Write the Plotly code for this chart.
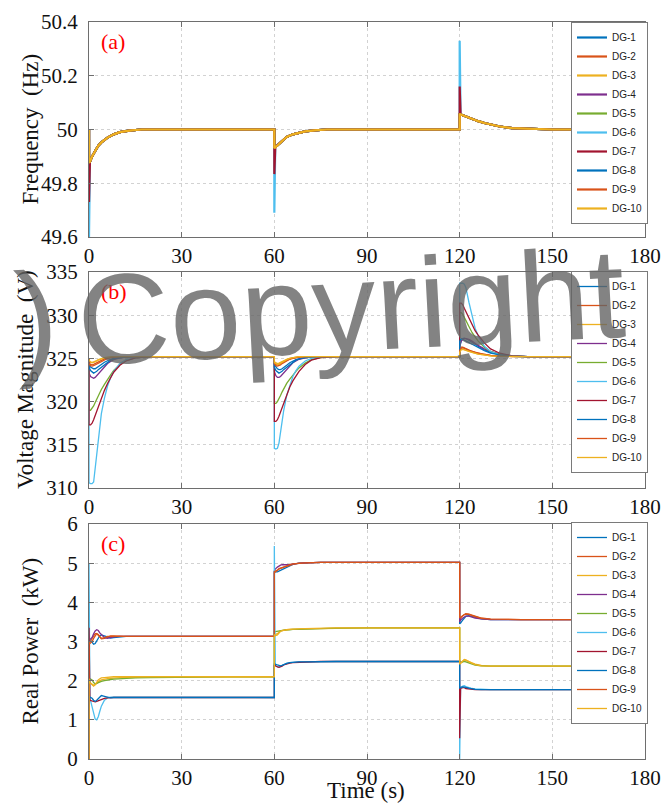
import plotly.graph_objects as go

W, H = 661, 804

dg_names = ["DG-1", "DG-2", "DG-3", "DG-4", "DG-5", "DG-6", "DG-7", "DG-8", "DG-9", "DG-10"]
dg_colors = ["#0072BD", "#D95319", "#EDB120", "#7E2F8E", "#77AC30",
             "#4DBEEE", "#A2142F", "#0072BD", "#D95319", "#EDB120"]

x_ticks = [0, 30, 60, 90, 120, 150, 180]

# ---------------- (a) Frequency ----------------
freq_time = [0, 0, 0.3, 1, 2, 3, 4, 6, 8, 10, 13, 17, 22,
             60, 60, 60.3, 61, 62, 63, 64, 66, 68, 70, 73, 77, 82,
             120, 120, 120.3, 121, 122, 123, 124, 126, 128, 130, 133, 137, 142, 150, 180]
freq_common = [50.0, 49.877, 49.88, 49.9, 49.92, 49.94, 49.952, 49.97, 49.982, 49.99, 49.996, 50.0, 50.0,
               50.0, 49.93, 49.933, 49.942, 49.952, 49.962, 49.972, 49.982, 49.988, 49.993, 49.997, 50.0, 50.0,
               50.0, 50.056, 50.056, 50.053, 50.048, 50.043, 50.038, 50.031, 50.024, 50.018, 50.011, 50.005, 50.002, 50.0, 50.0]
freq_dg6 = [50.0, 49.6, 49.88, 49.9, 49.92, 49.94, 49.952, 49.97, 49.982, 49.99, 49.996, 50.0, 50.0,
            50.0, 49.69, 49.933, 49.942, 49.952, 49.962, 49.972, 49.982, 49.988, 49.993, 49.997, 50.0, 50.0,
            50.0, 50.33, 50.056, 50.053, 50.048, 50.043, 50.038, 50.031, 50.024, 50.018, 50.011, 50.005, 50.002, 50.0, 50.0]
freq_dg7 = [50.0, 49.73, 49.88, 49.9, 49.92, 49.94, 49.952, 49.97, 49.982, 49.99, 49.996, 50.0, 50.0,
            50.0, 49.834, 49.933, 49.942, 49.952, 49.962, 49.972, 49.982, 49.988, 49.993, 49.997, 50.0, 50.0,
            50.0, 50.16, 50.056, 50.053, 50.048, 50.043, 50.038, 50.031, 50.024, 50.018, 50.011, 50.005, 50.002, 50.0, 50.0]
freq_series = [freq_common, freq_common, freq_common, freq_common, freq_common,
               freq_dg6, freq_dg7, freq_common, freq_common, freq_common]

# ---------------- (b) Voltage magnitude ----------------
volt_time = [0, 0, 0.5, 1, 1.5, 2, 2.5, 3, 4, 5, 6, 7, 8, 10, 12, 15, 20,
             60, 60, 60.5, 61, 61.5, 62, 62.5, 63, 64, 65, 66, 67, 68, 70, 72, 75, 80,
             120, 120, 120.5, 121, 121.5, 122, 123, 124, 125, 126, 128, 130, 133, 137, 142, 180]
volt_dg1 = [325.0, 324.3, 324.0, 323.9, 323.8, 323.8, 323.9, 324.0, 324.3, 324.55, 324.75, 324.9, 325.0, 325.1, 325.15, 325.2, 325.2,
            325.2, 324.3, 324.0, 323.8, 323.7, 323.7, 323.8, 323.9, 324.2, 324.5, 324.7, 324.85, 324.95, 325.1, 325.15, 325.2, 325.2,
            325.2, 326.3, 327.0, 327.3, 327.35, 327.3, 327.1, 326.85, 326.6, 326.4, 326.0, 325.7, 325.45, 325.3, 325.2, 325.2]
volt_dg2 = [325.0, 324.5, 324.3, 324.25, 324.3, 324.4, 324.5, 324.6, 324.8, 324.95, 325.05, 325.1, 325.15, 325.2, 325.2, 325.2, 325.2,
            325.2, 324.5, 324.3, 324.25, 324.3, 324.4, 324.5, 324.6, 324.8, 324.95, 325.05, 325.1, 325.15, 325.2, 325.2, 325.2, 325.2,
            325.2, 326.0, 326.3, 326.3, 326.2, 326.1, 325.95, 325.8, 325.7, 325.6, 325.45, 325.35, 325.25, 325.2, 325.2, 325.2]
volt_dg3 = [325.0, 324.7, 324.55, 324.5, 324.55, 324.6, 324.7, 324.8, 324.95, 325.05, 325.1, 325.15, 325.2, 325.2, 325.2, 325.2, 325.2,
            325.2, 324.6, 324.45, 324.4, 324.45, 324.55, 324.65, 324.75, 324.9, 325.0, 325.1, 325.15, 325.2, 325.2, 325.2, 325.2, 325.2,
            325.2, 325.8, 326.1, 326.1, 326.0, 325.9, 325.8, 325.7, 325.6, 325.5, 325.4, 325.3, 325.25, 325.2, 325.2, 325.2]
volt_dg4 = [325.0, 323.3, 322.9, 322.75, 322.7, 322.8, 323.0, 323.2, 323.7, 324.1, 324.4, 324.65, 324.85, 325.05, 325.15, 325.2, 325.2,
            325.2, 323.5, 323.0, 322.8, 322.8, 322.9, 323.1, 323.3, 323.8, 324.2, 324.5, 324.7, 324.9, 325.05, 325.15, 325.2, 325.2,
            325.2, 326.5, 327.0, 327.2, 327.3, 327.3, 327.2, 327.0, 326.7, 326.5, 326.1, 325.8, 325.5, 325.3, 325.2, 325.2]
volt_dg5 = [325.0, 319.0, 319.0, 319.2, 319.5, 319.9, 320.3, 320.7, 321.4, 322.0, 322.6, 323.1, 323.6, 324.3, 324.75, 325.05, 325.2,
            325.2, 319.8, 319.8, 320.0, 320.3, 320.7, 321.1, 321.5, 322.1, 322.6, 323.1, 323.5, 323.9, 324.45, 324.85, 325.1, 325.2,
            325.2, 330.3, 330.3, 330.1, 329.8, 329.4, 328.7, 328.0, 327.5, 327.0, 326.3, 325.8, 325.45, 325.25, 325.2, 325.2]
volt_dg6 = [325.0, 310.6, 310.5, 310.5, 310.7, 312.3, 314.2, 316.0, 318.6, 320.4, 321.8, 322.8, 323.5, 324.4, 324.85, 325.1, 325.2,
            325.2, 314.6, 314.5, 314.6, 315.2, 316.5, 317.8, 318.9, 320.7, 321.9, 322.9, 323.6, 324.1, 324.7, 325.0, 325.15, 325.2,
            325.2, 333.7, 333.7, 333.7, 333.6, 333.2, 331.5, 329.8, 328.5, 327.6, 326.4, 325.8, 325.4, 325.25, 325.2, 325.2]
volt_dg7 = [325.0, 317.3, 317.3, 317.5, 317.9, 318.4, 318.9, 319.4, 320.4, 321.3, 322.1, 322.8, 323.4, 324.2, 324.7, 325.05, 325.2,
            325.2, 317.7, 317.7, 317.9, 318.3, 318.8, 319.3, 319.8, 320.8, 321.7, 322.4, 323.0, 323.5, 324.3, 324.8, 325.1, 325.2,
            325.2, 331.4, 331.4, 331.2, 330.8, 330.4, 329.6, 328.9, 328.2, 327.7, 326.8, 326.1, 325.6, 325.3, 325.2, 325.2]
volt_dg8 = [325.0, 324.0, 323.6, 323.4, 323.3, 323.4, 323.5, 323.7, 324.0, 324.3, 324.6, 324.8, 324.95, 325.1, 325.15, 325.2, 325.2,
            325.2, 324.0, 323.6, 323.4, 323.3, 323.4, 323.5, 323.7, 324.0, 324.3, 324.6, 324.8, 324.95, 325.1, 325.15, 325.2, 325.2,
            325.2, 327.0, 327.3, 327.2, 327.1, 327.0, 326.8, 326.6, 326.4, 326.2, 325.9, 325.6, 325.4, 325.25, 325.2, 325.2]
volt_dg9 = [325.0, 324.4, 324.15, 324.1, 324.15, 324.25, 324.4, 324.5, 324.7, 324.9, 325.0, 325.1, 325.15, 325.2, 325.2, 325.2, 325.2,
            325.2, 324.4, 324.15, 324.1, 324.15, 324.25, 324.4, 324.5, 324.7, 324.9, 325.0, 325.1, 325.15, 325.2, 325.2, 325.2, 325.2,
            325.2, 325.9, 326.2, 326.25, 326.2, 326.1, 325.95, 325.8, 325.7, 325.6, 325.45, 325.35, 325.25, 325.2, 325.2, 325.2]
volt_dg10 = [325.0, 324.8, 324.6, 324.55, 324.6, 324.65, 324.75, 324.85, 325.0, 325.1, 325.15, 325.2, 325.2, 325.2, 325.2, 325.2, 325.2,
             325.2, 324.5, 324.35, 324.3, 324.35, 324.45, 324.55, 324.7, 324.85, 325.0, 325.1, 325.15, 325.2, 325.2, 325.2, 325.2, 325.2,
             325.2, 325.7, 326.0, 326.05, 326.0, 325.9, 325.8, 325.7, 325.6, 325.5, 325.4, 325.3, 325.25, 325.2, 325.2, 325.2]
volt_series = [volt_dg1, volt_dg2, volt_dg3, volt_dg4, volt_dg5,
               volt_dg6, volt_dg7, volt_dg8, volt_dg9, volt_dg10]

# ---------------- (c) Real power ----------------
pow_time = [0, 0, 0.3, 1, 1.5, 2, 2.5, 3, 3.5, 4, 5, 6, 7, 8, 10, 12, 15, 20, 30, 45,
            60, 60, 60.3, 61, 61.5, 62, 62.5, 63, 64, 65, 66, 68, 70, 75, 80, 90,
            120, 120, 120.3, 121, 121.5, 122, 123, 124, 125, 127, 130, 135, 140, 180]
pow_dg1 = [0, 3.0, 3.05, 2.98, 2.93, 2.95, 3.02, 3.1, 3.15, 3.17, 3.14, 3.1, 3.09, 3.1, 3.12, 3.13, 3.13, 3.13, 3.13, 3.13,
           3.13, 4.8, 4.78, 4.78, 4.8, 4.82, 4.84, 4.86, 4.9, 4.94, 4.97, 5.0, 5.01, 5.02, 5.02, 5.02,
           5.02, 3.45, 3.47, 3.55, 3.6, 3.64, 3.66, 3.64, 3.62, 3.58, 3.56, 3.56, 3.56, 3.56]
pow_dg2 = [0, 3.05, 3.0, 3.08, 3.15, 3.2, 3.2, 3.15, 3.1, 3.07, 3.08, 3.12, 3.14, 3.14, 3.13, 3.13, 3.13, 3.13, 3.13, 3.13,
           3.13, 4.75, 4.78, 4.82, 4.86, 4.88, 4.9, 4.9, 4.92, 4.95, 4.97, 5.0, 5.01, 5.02, 5.02, 5.02,
           5.02, 3.55, 3.6, 3.66, 3.69, 3.71, 3.7, 3.67, 3.64, 3.6, 3.57, 3.56, 3.56, 3.56]
pow_dg3 = [0, 2.0, 1.95, 1.9, 1.88, 1.9, 1.94, 1.97, 2.0, 2.02, 2.04, 2.05, 2.06, 2.07, 2.08, 2.08, 2.09, 2.09, 2.1, 2.1,
           2.1, 3.2, 3.18, 3.2, 3.24, 3.27, 3.28, 3.29, 3.3, 3.31, 3.31, 3.32, 3.32, 3.33, 3.34, 3.35,
           3.35, 2.45, 2.45, 2.5, 2.53, 2.52, 2.48, 2.44, 2.42, 2.39, 2.37, 2.37, 2.37, 2.37]
pow_dg4 = [0, 3.1, 3.05, 3.1, 3.2, 3.27, 3.3, 3.28, 3.22, 3.17, 3.1, 3.08, 3.1, 3.12, 3.13, 3.13, 3.13, 3.13, 3.13, 3.13,
           3.13, 4.8, 4.85, 4.9, 4.93, 4.95, 4.96, 4.96, 4.95, 4.96, 4.98, 5.0, 5.01, 5.02, 5.02, 5.02,
           5.02, 3.5, 3.55, 3.6, 3.63, 3.65, 3.65, 3.63, 3.6, 3.58, 3.56, 3.56, 3.56, 3.56]
pow_dg5 = [0, 2.0, 2.05, 2.02, 1.95, 1.92, 1.93, 1.95, 1.97, 1.98, 2.0, 2.02, 2.03, 2.04, 2.05, 2.06, 2.07, 2.08, 2.09, 2.1,
           2.1, 3.25, 3.25, 3.26, 3.27, 3.28, 3.28, 3.29, 3.3, 3.3, 3.31, 3.31, 3.32, 3.33, 3.34, 3.35,
           3.35, 2.45, 2.46, 2.48, 2.49, 2.48, 2.45, 2.42, 2.4, 2.38, 2.37, 2.37, 2.37, 2.37]
pow_dg6 = [0, 5.0, 1.55, 1.35, 1.15, 1.02, 1.0, 1.08, 1.22, 1.35, 1.5, 1.56, 1.58, 1.58, 1.57, 1.57, 1.57, 1.57, 1.57, 1.57,
           1.57, 5.44, 2.38, 2.36, 2.35, 2.37, 2.39, 2.41, 2.44, 2.46, 2.47, 2.48, 2.48, 2.49, 2.49, 2.49,
           2.49, 0.0, 1.82, 1.86, 1.87, 1.85, 1.82, 1.8, 1.79, 1.78, 1.77, 1.77, 1.77, 1.77]
pow_dg7 = [0, 3.35, 1.5, 1.48, 1.47, 1.46, 1.47, 1.49, 1.51, 1.53, 1.55, 1.56, 1.57, 1.57, 1.57, 1.57, 1.57, 1.57, 1.57, 1.57,
           1.57, 2.4, 2.38, 2.35, 2.34, 2.35, 2.37, 2.4, 2.43, 2.45, 2.46, 2.47, 2.48, 2.49, 2.49, 2.49,
           2.49, 0.53, 1.8, 1.82, 1.82, 1.8, 1.79, 1.78, 1.77, 1.77, 1.77, 1.77, 1.77, 1.77]
pow_dg8 = [0, 1.6, 1.58, 1.55, 1.5, 1.47, 1.5, 1.55, 1.6, 1.62, 1.6, 1.57, 1.56, 1.57, 1.57, 1.57, 1.57, 1.57, 1.57, 1.57,
           1.57, 2.42, 2.42, 2.4, 2.38, 2.38, 2.39, 2.41, 2.44, 2.46, 2.47, 2.48, 2.48, 2.49, 2.49, 2.49,
           2.49, 1.8, 1.83, 1.84, 1.84, 1.83, 1.81, 1.79, 1.78, 1.77, 1.77, 1.77, 1.77, 1.77]
pow_dg9 = [0, 3.0, 2.95, 3.0, 3.08, 3.15, 3.2, 3.18, 3.12, 3.08, 3.1, 3.13, 3.13, 3.13, 3.13, 3.13, 3.13, 3.13, 3.13, 3.13,
           3.13, 4.78, 4.8, 4.82, 4.85, 4.87, 4.88, 4.9, 4.93, 4.96, 4.98, 5.0, 5.01, 5.02, 5.02, 5.02,
           5.02, 3.6, 3.62, 3.66, 3.69, 3.7, 3.69, 3.66, 3.63, 3.59, 3.57, 3.56, 3.56, 3.56]
pow_dg10 = [0, 2.05, 1.95, 1.88, 1.86, 1.9, 1.97, 2.02, 2.05, 2.07, 2.08, 2.09, 2.1, 2.1, 2.1, 2.1, 2.1, 2.1, 2.1, 2.1,
            2.1, 3.18, 3.15, 3.17, 3.22, 3.26, 3.28, 3.29, 3.3, 3.31, 3.31, 3.32, 3.33, 3.34, 3.35, 3.35,
            3.35, 2.42, 2.44, 2.5, 2.54, 2.53, 2.48, 2.44, 2.41, 2.38, 2.37, 2.37, 2.37, 2.37]
pow_series = [pow_dg1, pow_dg2, pow_dg3, pow_dg4, pow_dg5,
              pow_dg6, pow_dg7, pow_dg8, pow_dg9, pow_dg10]


def px(x):
    """window pixel x -> paper fraction"""
    return x / W


def py(y):
    """window pixel y -> paper fraction"""
    return 1 - y / H


SERIF = "Liberation Serif"
SANS = "Liberation Sans"

fig = go.Figure()

panels = [
    (freq_time, freq_series, "x", "y", "legend", 2.2),
    (volt_time, volt_series, "x2", "y2", "legend2", 1.3),
    (pow_time, pow_series, "x3", "y3", "legend3", 1.3),
]
for times, series, xa, ya, lg, lw in panels:
    for name, color, vals in zip(dg_names, dg_colors, series):
        fig.add_trace(go.Scatter(x=times, y=vals, mode="lines", name=name,
                                 line=dict(color=color, width=lw),
                                 xaxis=xa, yaxis=ya, legend=lg))

# panel pixel boxes (top, bottom)
boxes = [(22, 237), (272, 488), (524, 759)]
legend_tops = [22, 271, 522]
x_dom = [px(89), px(645)]
y_ranges = [([49.6, 50.4], 0.2), ([310, 335], 5), ([0, 6], 1)]

axis_common = dict(
    showline=True, linecolor="#6e6e6e", linewidth=1, mirror="ticks",
    ticks="inside", ticklen=5, tickcolor="#6e6e6e",
    showgrid=True, gridcolor="#d2d2d2", griddash="dot", gridwidth=1,
    zeroline=False, automargin=False,
    tickfont=dict(family=SERIF, size=21, color="#111111"),
)

layout = dict(
    width=W, height=H,
    margin=dict(l=0, r=0, t=0, b=0, autoexpand=False),
    paper_bgcolor="white", plot_bgcolor="white",
    showlegend=True,
)
for i, ((top, bot), (yr, dt), ltop) in enumerate(zip(boxes, y_ranges, legend_tops)):
    sfx = "" if i == 0 else str(i + 1)
    layout["xaxis" + sfx] = dict(axis_common, domain=x_dom, range=[0, 180],
                                 tickvals=x_ticks, anchor="y" + sfx,
                                 ticklabelstandoff=0)
    layout["yaxis" + sfx] = dict(axis_common, domain=[py(bot), py(top)],
                                 range=yr, dtick=dt, tick0=yr[0],
                                 anchor="x" + sfx, ticklabelstandoff=6)
    lgname = "legend" if i == 0 else "legend" + str(i + 1)
    layout[lgname] = dict(
        x=px(648), xanchor="right", y=py(ltop), yanchor="top",
        bgcolor="white", bordercolor="#7a7a7a", borderwidth=1,
        font=dict(family=SANS, size=10, color="#222222"),
        itemwidth=30, tracegroupgap=0,
    )

fig.update_layout(**layout)

annotations = []
titles = [("Frequency  (Hz)", 30), ("Voltage Magnitude  (V)", 26), ("Real Power  (kW)", 30)]
for (txt, xc), (top, bot) in zip(titles, boxes):
    annotations.append(dict(text=txt, x=px(xc), y=py((top + bot) / 2), xref="paper", yref="paper",
                            xanchor="center", yanchor="middle", textangle=-90, showarrow=False,
                            font=dict(family=SERIF, size=23, color="#111111")))
for lab, (top, bot) in zip(["(a)", "(b)", "(c)"], boxes):
    annotations.append(dict(text=lab, x=px(99), y=py(top + 5), xref="paper", yref="paper",
                            xanchor="left", yanchor="top", showarrow=False,
                            font=dict(family=SERIF, size=22, color="#ff0000")))
annotations.append(dict(text="Time (s)", x=px(366), y=py(805), xref="paper", yref="paper",
                        xanchor="center", yanchor="bottom", showarrow=False,
                        font=dict(family=SERIF, size=23, color="#111111")))
# watermark
annotations.append(dict(text="Copyright", x=px(630), y=py(306), xref="paper", yref="paper",
                        xanchor="right", yanchor="middle", showarrow=False, textangle=-3,
                        font=dict(family=SANS, size=128, color="rgba(100,100,100,0.8)")))
annotations.append(dict(text=")", x=px(36), y=py(318), xref="paper", yref="paper",
                        xanchor="center", yanchor="middle", showarrow=False, textangle=-3,
                        font=dict(family=SANS, size=128, color="rgba(100,100,100,0.8)")))
fig.update_layout(annotations=annotations)

fig.write_html(
    "out.html",
    config={"displayModeBar": False},
    post_script="document.body.style.margin='0';document.body.style.overflow='hidden';",
)
